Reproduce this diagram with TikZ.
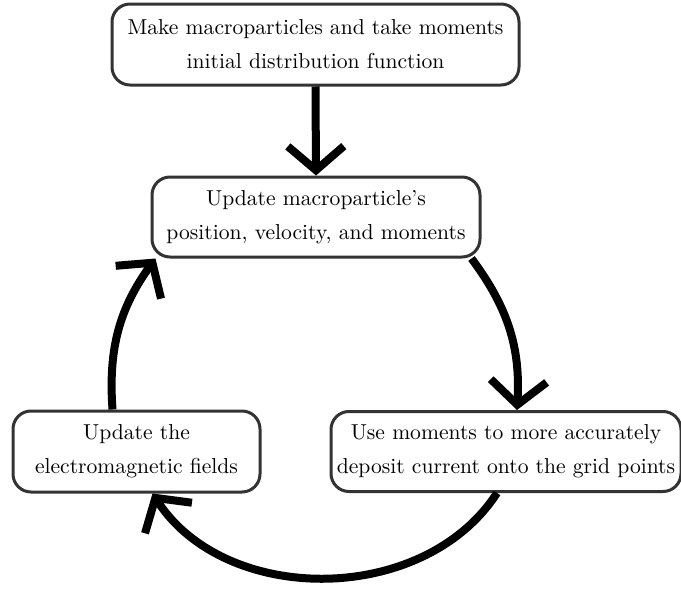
\documentclass[tikz,border=0pt]{standalone}
\usetikzlibrary{arrows.meta}
\definecolor{boxgray}{HTML}{333333}
\begin{document}
\begin{tikzpicture}[x=0.5pt,y=-0.5pt,
  box/.style={draw=boxgray, line width=1.5pt, rounded corners=9pt, align=center,
    inner sep=0pt, fill=white, font=\fontsize{10.8}{17}\selectfont},
  arr/.style={line width=4pt, -{Straight Barb[length=12pt,width=28pt,sharp]}}]
\useasboundingbox[fill=white] (0,0) rectangle (681,589);
\clip (0,0) rectangle (681,589);
\node[box, minimum width=203.5pt, minimum height=40.5pt] (top) at (315.5,44.5)
  {Make macroparticles and take moments\\initial distribution function};
\node[box, minimum width=164pt, minimum height=40pt] (upd) at (316,217)
  {Update macroparticle’s\\position, velocity, and moments};
\node[box, minimum width=123.5pt, minimum height=40.5pt] (fld) at (136.5,451.5)
  {Update the\\electromagnetic fields};
\node[box, minimum width=175pt, minimum height=40pt] (dep) at (506,451.5)
  {Use moments to more accurately\\deposit current onto the grid points};
\draw[arr] (top.south) -- (upd.north);
\draw[arr] ([xshift=-5pt]upd.south east) to[bend left=20] ([xshift=5.5pt]dep.north);
\draw[arr] ([xshift=-4.5pt]dep.south) to[bend left=57] ([xshift=8pt]fld.south);
\draw[arr] ([xshift=-12pt]fld.north) to[bend left=20] ([xshift=2.5pt]upd.south west);
\end{tikzpicture}
\end{document}
